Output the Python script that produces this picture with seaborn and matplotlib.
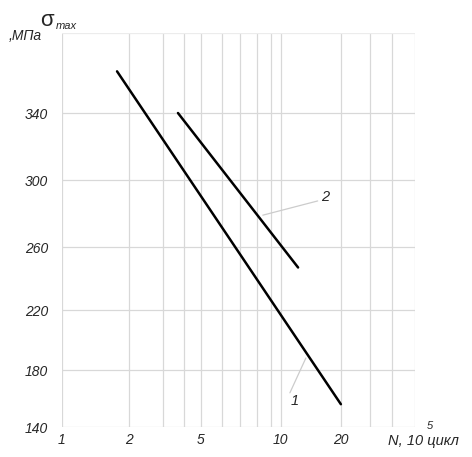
import numpy as np
import pandas as pd
import matplotlib
matplotlib.use("Agg")
import matplotlib.pyplot as plt
import seaborn as sns

# кривые усталости: (N, 10^5 цикл ; sigma_max, МПа)
n_1 = [1.77, 20.0]
s_1 = [365, 156]
n_2 = [3.69, 12.2]
s_2 = [340, 247]

x_ticks = [1, 2, 5, 10, 20]
y_ticks = [140, 180, 220, 260, 300, 340]
x_grid = [1, 2, 3, 4, 5, 6, 7, 8, 9, 10, 20, 30, 40, 50]
# сетка бланка неравномерная, повторяем её шагами
x_grid_pos = [0, 67, 101, 122, 139, 160, 178, 195, 209, 219, 279, 308, 330, 353]
y_grid = [140, 180, 220, 260, 300, 340, 388]
y_grid_pos = [0, 57, 117, 180, 247, 314, 394]

lg = np.log10(x_grid)


def fwd_x(x):
    return np.interp(np.log10(np.clip(x, 1e-3, None)), lg, x_grid_pos)


def inv_x(p):
    return 10 ** np.interp(p, x_grid_pos, lg)


def fwd_y(y):
    return np.interp(y, y_grid, y_grid_pos)


def inv_y(p):
    return np.interp(p, y_grid_pos, y_grid)


sns.set_style("white")
plt.rcParams['font.family'] = ['Liberation Sans', 'DejaVu Sans']

df = pd.concat([
    pd.DataFrame({'N': n_1, 'sigma': s_1, 'curve': '1'}),
    pd.DataFrame({'N': n_2, 'sigma': s_2, 'curve': '2'}),
])

fig = plt.figure(figsize=(4.72, 4.57), dpi=100)
ax = fig.add_axes([0.131, 0.0656, 0.748, 0.8622])
ax.set_xscale('function', functions=(fwd_x, inv_x))
ax.set_yscale('function', functions=(fwd_y, inv_y))

for x in x_grid:
    ax.axvline(x, color='#d8d8d8', lw=0.9, zorder=0)
for y in y_ticks:
    ax.axhline(y, color='#d8d8d8', lw=0.9, zorder=0)
ax.axhline(388, color='#ececec', lw=0.9, zorder=0)

sns.lineplot(data=df, x='N', y='sigma', units='curve', estimator=None,
             color='black', lw=1.8, ax=ax, legend=False)

ax.set_xlim(1, 50)
ax.set_ylim(140, 388)
ax.set_xticks(x_ticks)
ax.set_xticklabels([str(v) for v in x_ticks])
ax.set_yticks(y_ticks)
ax.set_yticklabels([str(v) for v in y_ticks])
ax.minorticks_off()
for s in ax.spines.values():
    s.set_visible(False)
ax.tick_params(axis='x', length=0, labelsize=10, pad=4)
ax.tick_params(axis='y', length=0, labelsize=10, pad=10)
for lab in ax.get_xticklabels() + ax.get_yticklabels():
    lab.set_fontstyle('italic')
ax.set_xlabel('')
ax.set_ylabel('')

# подписи кривых с выносками
ax.plot([8.41, 15.3], [279, 287.5], color='#cccccc', lw=0.9, zorder=1)
ax.text(16.6, 290, '2', fontsize=10.5, style='italic', ha='center', va='center')
ax.plot([11.1, 13.35], [164, 188], color='#cccccc', lw=0.9, zorder=1)
ax.text(11.75, 158, '1', fontsize=10.5, style='italic', ha='center', va='center')

# подписи осей
fig.text(0.085, 0.955, 'σ', fontsize=16, ha='left', va='center')
fig.text(0.118, 0.943, 'max', fontsize=8, style='italic', ha='left', va='center')
fig.text(0.018, 0.922, ',МПа', fontsize=10, style='italic', ha='left', va='center')
fig.text(0.821, 0.036, 'N, 10 цикл', fontsize=10.5, style='italic', ha='left', va='center')
fig.text(0.904, 0.068, '5', fontsize=8, style='italic', ha='left', va='center')

fig.savefig('out.png', dpi=100)
